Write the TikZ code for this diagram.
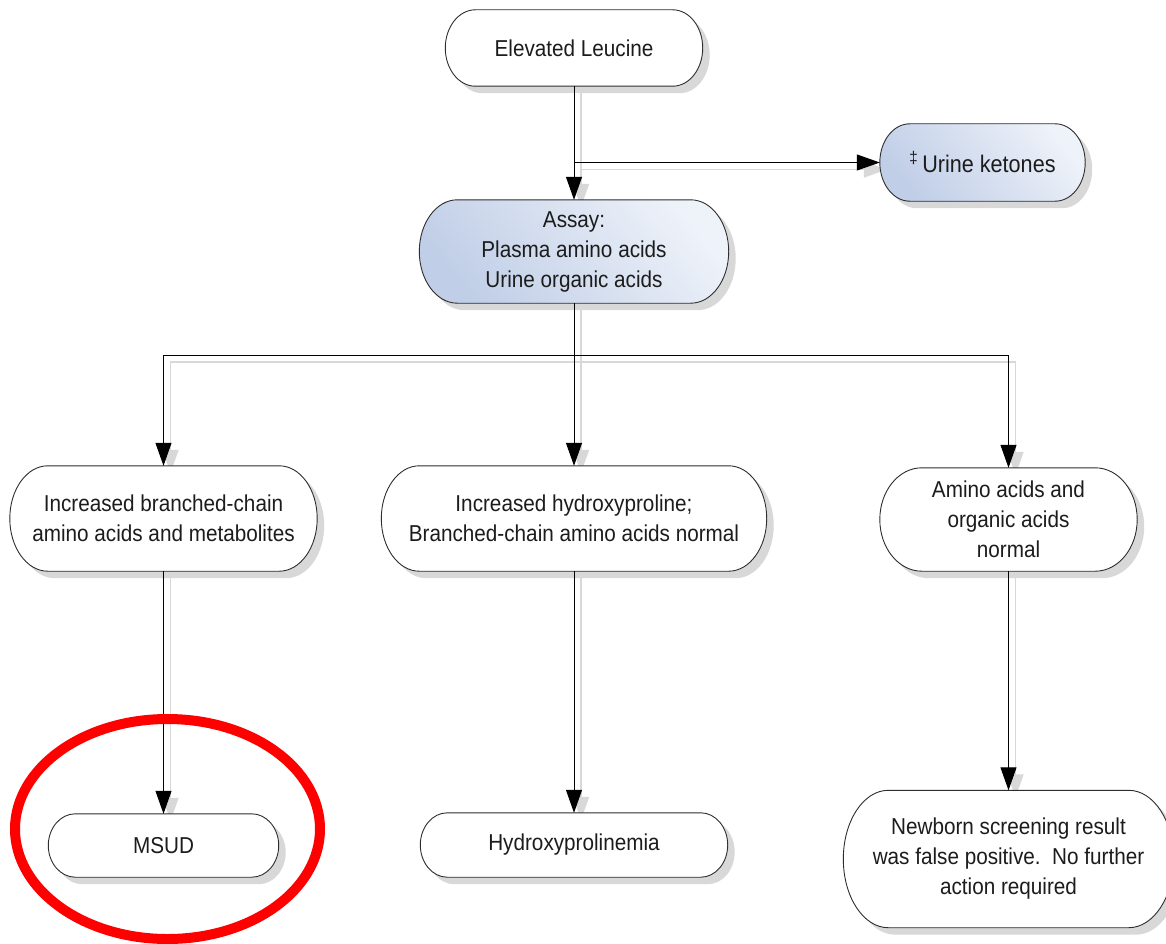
\documentclass[tikz,border=0pt]{standalone}
\usepackage{fontspec}
\setmainfont{Liberation Sans}[FakeStretch=0.9]
\usetikzlibrary{arrows.meta,calc,shadows}
\definecolor{txt}{HTML}{1C1C1C}
\definecolor{bord}{HTML}{2E2E2E}
\definecolor{shd}{HTML}{D8D8D8}
\definecolor{blueD}{HTML}{C0CEE7}
\definecolor{blueL}{HTML}{EEF2F9}
\pgfdeclarelayer{bgshadow}
\pgfdeclarelayer{bg}
\pgfsetlayers{bgshadow,bg,main}
% terminator outline with elliptic ends: node name, x radius of ends, style
\newcommand\termpath[3]{%
  \begin{pgfonlayer}{bg}
  \path[#3] let \p1=(#1.north west), \p2=(#1.south east), \n1={(\y1-\y2)/2} in
    (\x1+#2pt,\y1) -- (\x2-#2pt,\y1)
    arc[start angle=90,end angle=-90,x radius=#2pt,y radius={\n1*1pt}]
    -- (\x1+#2pt,\y2)
    arc[start angle=270,end angle=90,x radius=#2pt,y radius={\n1*1pt}]
    -- cycle;
  \end{pgfonlayer}}
\newcommand\connect[1]{%
  \begin{pgfonlayer}{bgshadow}\draw[connshd] #1;\end{pgfonlayer}
  \draw[conn] #1;}
\tikzset{
  box/.style={rectangle, draw=none, inner sep=0pt, align=center, text=txt,
    font=\fontsize{23}{30}\selectfont},
  termwhite/.style={fill=white, draw=bord, line width=0.9pt,
    drop shadow={shadow xshift=7pt,shadow yshift=-7pt,fill=shd,opacity=1}},
  termblue/.style={draw=bord, line width=0.9pt, top color=blueL, bottom color=blueD,
    shading angle=-50,
    drop shadow={shadow xshift=7pt,shadow yshift=-7pt,fill=shd,opacity=1}},
  conn/.style={draw=black, line width=1pt, -{Triangle[width=16pt,length=23pt]}},
  connshd/.style={draw=shd, line width=1.8pt, -{Triangle[width=16pt,length=23pt]},
    transform canvas={xshift=7pt,yshift=-7pt}},
  marker/.style={draw=red, line width=10pt}
}
\begin{document}
\begin{tikzpicture}[x=1pt,y=-1pt]
\begin{pgfonlayer}{bgshadow}
\fill[white] (0,0) rectangle (1166,944);
\end{pgfonlayer}
\useasboundingbox (0,0) rectangle (1166,944);

\node[box, minimum width=257pt, minimum height=76pt] (elev) at (574,48) {Elevated Leucine};
\node[box, minimum width=205pt, minimum height=77pt, font=\fontsize{24}{30}\selectfont] (urine) at (982.5,162.5) {\textsuperscript{‡}\,Urine ketones};
\node[box, minimum width=309pt, minimum height=103pt] (assay) at (574,251.5) {Assay:\\Plasma amino acids\\Urine organic acids};
\node[box, minimum width=307pt, minimum height=105pt] (left) at (163.5,518.5) {Increased branched-chain\\amino acids and metabolites};
\node[box, minimum width=385pt, minimum height=105pt] (mid) at (574,518.5) {Increased hydroxyproline;\\Branched-chain amino acids normal};
\node[box, minimum width=257pt, minimum height=103pt] (right) at (1008.5,519.5) {Amino acids and\\organic acids\\normal};
\node[box, minimum width=230pt, minimum height=63pt] (msud) at (163.5,845.5) {MSUD};
\node[box, minimum width=307pt, minimum height=64pt] (hyp) at (574,845) {Hydroxyprolinemia};
\node[box, minimum width=330pt, minimum height=137pt] (newborn) at (1008.5,859) {Newborn screening result\\was false positive.\ \ No further\\action required};

\termpath{elev}{30}{termwhite}
\termpath{urine}{30}{termblue}
\termpath{assay}{38}{termblue}
\termpath{left}{38}{termwhite}
\termpath{mid}{38}{termwhite}
\termpath{right}{42}{termwhite}
\termpath{msud}{27}{termwhite}
\termpath{hyp}{27}{termwhite}
\termpath{newborn}{45}{termwhite}

\coordinate (j1) at (elev.south |- urine.west);
\coordinate (j2) at (574,355);

\connect{(elev.south) -- (assay.north)}
\connect{(j1) -- (urine.west)}
\connect{(assay.south) -- (mid.north)}
\connect{(j2) -| (left.north)}
\connect{(j2) -| (right.north)}
\connect{(left.south) -- (msud.north)}
\connect{(mid.south) -- (hyp.north)}
\connect{(right.south) -- (newborn.north)}

\draw[marker] (167.5,829) ellipse[x radius=152.5, y radius=110];
\end{tikzpicture}
\end{document}
